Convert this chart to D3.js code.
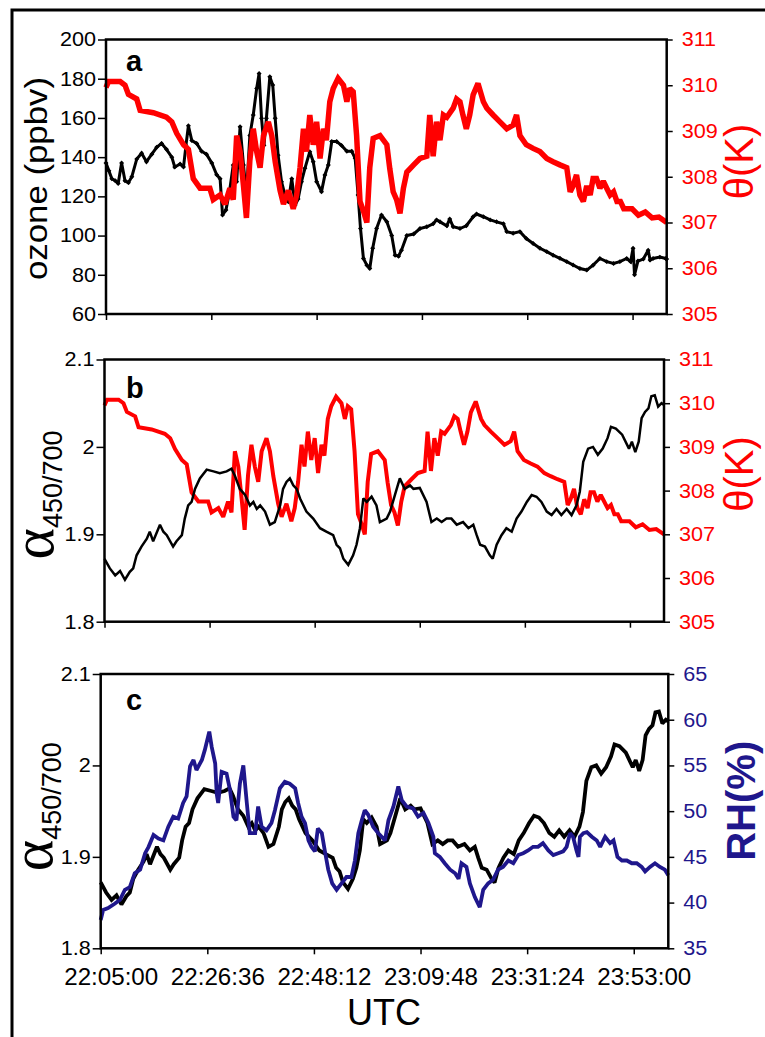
<!DOCTYPE html>
<html><head><meta charset="utf-8">
<script src="https://cdn.jsdelivr.net/npm/d3@7"></script>
<style>
html,body{margin:0;padding:0;background:#fff;}
svg{display:block;}
text{font-family:"Liberation Sans",Arial,sans-serif;}
</style></head>
<body>
<svg id="chart" width="765" height="1037"></svg>
<script>
// ---------------- DATA (minutes after 22:05:00 UTC) ----------------
const xTickMinutes = [0, 21.6, 43.2, 64.8, 86.4, 108];
const xTickLabels = ["22:05:00","22:26:36","22:48:12","23:09:48","23:31:24","23:53:00"];

const ozoneTicks = [60,80,100,120,140,160,180,200];
const thetaTicks = [305,306,307,308,309,310,311];
const alphaTicks = [1.8,1.9,2.0,2.1];
const alphaTickLabels = ["1.8","1.9","2","2.1"];
const rhTicks = [35,40,45,50,55,60,65];

const ozoneT = [0,0.6,1.2,1.9,2.5,3.2,3.9,4.6,5.3,6.3,7.3,8.3,9.4,10.4,11.4,12.4,13.5,14.1,15.2,15.9,16.4,16.9,17.6,18.6,19.6,20.6,21.7,22.7,23.4,23.9,24.6,25.3,26.1,26.8,27.5,28.2,28.8,29.5,30.2,30.9,31.4,31.9,32.4,32.9,33.6,34.2,34.7,35.3,36,36.7,37.4,38.1,38.8,39.4,40.1,40.8,41.8,42.5,43.2,44.2,44.9,45.6,46.3,47.3,48.3,49.4,50.4,51.1,51.7,52.2,52.8,53.5,54.1,54.7,55.5,56.5,57.6,58.6,59.3,60,60.6,61.7,63.1,64.4,65.8,67.1,67.8,68.5,69.9,70.5,71.2,72.6,73.9,75.3,76,77.4,78.8,80.1,81.5,82.2,83.5,84.9,86.2,87.6,89,90.4,91.7,93.1,94.5,95.8,97.2,98.6,99.9,101.3,102.7,104.1,105.4,106.8,107.6,108.1,108.4,109.1,110.2,111.2,111.6,112.2,113.6,114.8,115];
const ozoneV = [137,133,129,128,126.6,137,128,127,130,139,142,137.7,141.5,145,147,144,140,135,136.5,135,146,156,148.5,147,143,141.5,137,131,129,110.5,113,122,136,127.5,155.5,136,120.7,151,161.5,175,182.7,159.8,146,159.8,181,176.8,159.8,141,127.5,120.7,117.3,129,115.6,118.7,127.5,134.3,142.8,137.7,127.5,122.4,130.9,136,148,148,146,143,143,139.4,120.7,103.6,88.3,84.9,83.2,93.5,103.6,110.5,107,100,90,89.5,92.5,100,100.8,103.6,104.5,106,108,107,105,108.5,104.5,103.6,105,109.6,111,109.6,108,107,106,102,101.2,102,98.5,96,93.5,91.8,90,88.4,86.7,85,83.2,82.4,84.9,88.3,86.7,85.8,86.7,88.3,86.7,93.5,80,87,88,92.5,87.5,88.3,89,88.3,88];

const thetaT = [0,0.5,2.9,3.9,4.6,6.3,7,9.7,12.4,13.5,14.5,15.9,16.9,17.9,19.3,21.3,22,23.4,24.4,25.4,26.1,26.8,27.5,28.2,28.8,29.5,30.2,30.9,31.6,32.3,33.3,34,34.7,35.7,36.4,37.4,38.4,39.1,39.8,40.5,41.1,41.8,42.5,43.2,43.9,44.6,45.2,45.9,46.6,47.6,48.7,49.4,50,50.7,51.4,52.1,52.8,53.5,54.1,54.8,56.2,57.6,58.2,58.9,59.6,60.3,61,61.7,63.1,64.4,65.8,66.4,67.1,67.8,68.5,69.2,69.9,71.2,71.9,72.6,73.2,73.9,74.6,75.3,76.3,77.4,78.1,79.4,80.8,82.2,83.5,84.2,84.9,86.2,87.6,89,90.4,91.7,93.1,94.5,95.2,95.8,96.5,97.2,97.9,98.6,99.3,99.9,100.6,101.3,102,102.7,103.4,104.1,104.8,105.5,106.2,107.9,109.2,110.6,112,113.4,115];
const thetaV = [309.95,310.08,310.08,310.0,309.8,309.7,309.45,309.4,309.3,309.2,308.95,308.7,308.6,307.96,307.75,307.75,307.5,307.6,307.4,307.75,307.5,308.9,308.55,307.8,307.1,308.35,309.05,308.55,308.2,308.9,309.2,308.9,308.33,307.7,307.4,307.7,307.3,307.6,308.2,309.05,308.55,309.35,308.7,309.2,308.4,309.05,308.8,309.64,309.93,310.15,310.0,309.64,309.93,309.86,308.9,307.46,307.25,307.0,308.2,308.84,308.9,308.7,308.18,307.67,307.5,307.2,307.75,308.1,308.26,308.4,308.45,309.35,308.45,309.2,308.8,309.35,309.3,309.5,309.7,309.64,309.35,309.05,309.35,309.79,310.04,309.64,309.5,309.35,309.2,309.05,309.13,309.35,308.9,308.7,308.62,308.55,308.4,308.33,308.26,308.2,307.67,307.8,308.04,307.6,307.46,307.8,307.6,307.96,307.96,307.75,307.9,307.75,307.6,307.67,307.46,307.46,307.3,307.3,307.16,307.23,307.1,307.12,307.0];

const alphaT = [0,1.1,2.2,3.2,4.2,5.2,5.9,6.6,7.6,8.7,9.3,10,11.4,12.1,12.8,14.1,14.8,15.9,16.5,17.2,17.9,18.6,19.6,21,22.4,23.7,25.1,26.1,26.8,27.8,28.9,29.9,30.6,31.3,32,33,34,35,36.1,36.7,37.4,38.1,38.8,39.5,40.2,41.5,42.9,44.3,45.6,47,47.7,48.4,49.1,50.1,51.1,51.8,52.5,53.2,53.9,54.9,55.9,56.6,58,58.7,59.7,60.7,61.7,62.8,63.5,64.8,66.2,67.2,68.3,69.3,70.3,71.3,72.4,73.7,74.8,75.8,76.5,77.2,78.2,79.2,79.8,80.6,81.6,82.6,83.7,84.7,85.7,86.8,87.8,88.8,89.8,90.9,91.9,92.9,93.9,95,96,97,97.7,98.4,99.4,100.4,101.4,102.4,103.4,104.1,105.1,106.4,107.8,108.4,109.1,109.8,110.4,111.1,111.8,112.4,113.1,113.8,114.5,115];
const alphaV = [1.872,1.861,1.853,1.858,1.848,1.857,1.861,1.876,1.886,1.895,1.903,1.892,1.911,1.903,1.899,1.886,1.892,1.899,1.918,1.933,1.937,1.952,1.964,1.974,1.972,1.970,1.972,1.975,1.967,1.952,1.945,1.933,1.937,1.929,1.933,1.926,1.911,1.914,1.933,1.952,1.96,1.964,1.956,1.952,1.941,1.926,1.918,1.907,1.903,1.899,1.888,1.884,1.872,1.865,1.876,1.888,1.907,1.941,1.937,1.943,1.933,1.914,1.918,1.926,1.945,1.964,1.952,1.956,1.952,1.953,1.937,1.914,1.918,1.914,1.918,1.918,1.911,1.914,1.907,1.911,1.899,1.888,1.886,1.876,1.872,1.888,1.899,1.907,1.903,1.918,1.926,1.937,1.945,1.943,1.937,1.926,1.922,1.929,1.922,1.929,1.922,1.933,1.949,1.983,1.998,2.0,1.991,1.998,2.01,2.023,2.021,2.014,1.998,2.006,1.994,2.006,2.033,2.04,2.044,2.058,2.059,2.046,2.05,2.048];

const rhT = [0,0.5,1.5,2.9,3.9,4.9,5.9,6.9,8,9,9.7,10.7,11.7,12.7,13.7,14.7,15.7,16.7,17.4,18.1,18.8,19.4,20.5,21.1,22,22.5,23.2,23.5,23.8,24.5,25.5,26.2,26.9,27.5,28.2,28.9,29.6,30.2,31.3,31.9,32.6,33.6,34.6,35.3,36.3,37.3,38.3,39.4,40,40.7,41.4,42.1,42.7,43.4,44,44.8,45.4,46.1,46.9,47.8,48.8,49.8,50.8,51.5,52.2,52.9,53.5,54.2,55.2,56.2,57.6,58.3,59.3,60.3,61,62,63.3,64.3,65.4,66.4,67.4,67.7,68.7,69.7,70.8,71.8,72.5,73.1,74.1,74.8,75.8,76.8,77.5,78.5,79.5,80.5,81.5,82.6,83.6,84.6,85.6,86.6,87.6,88.6,89.6,90.7,91.7,92.7,93.7,94.4,95.1,95.7,96.4,96.8,97.1,97.8,98.5,99.5,100.5,101.2,102.2,103.2,103.9,104.7,105.6,106.6,107.6,108.6,109.6,110.3,111.3,112.3,113.3,114.3,115];
const rhV = [38.1,39.2,39.4,39.9,40.3,41.4,41.7,43.2,43.6,45.4,46.1,47.4,47,46.8,48.3,49.4,49.2,50.9,51.6,54.9,55.6,54.5,55.6,56.7,58.7,57,55.2,51.9,50.9,54.3,54.1,52.3,49.4,49,53,55,50.9,47.6,47.6,50.5,48.3,47.9,48.7,50.1,52.5,53.2,53,52.5,50.9,49.4,48.7,46.8,46.1,45.6,48.1,47.6,45.7,43.6,42.1,41.4,42.1,42.8,42.8,44.6,47.6,49,50.1,49.6,48.3,47.6,46.8,49,50.5,52.7,51.2,50.5,50.3,49.4,49.8,48.7,47.2,45.4,45,44.3,43.6,43.2,42.6,44.3,43.9,42.1,40.6,39.5,41.4,42.1,42.5,43.6,43.9,44.6,44.3,45.2,45.4,45.7,46.1,46.1,46.5,45.7,45.2,45.4,45.6,46.1,47.6,47.2,45.7,45,47.2,47.6,47.7,47.2,46.8,46.1,47.2,46.5,46.8,45,44.6,44.6,44.3,44.3,43.9,43.4,43.9,44.3,43.9,43.6,43];

// ---------------- DRAWING ----------------
const RED = "#ff0000", NAVY = "#1f178c";
const svg = d3.select("#chart");
svg.append("rect").attr("width",765).attr("height",1037).attr("fill","#fff");
svg.append("rect").attr("x",12).attr("y",10).attr("width",800).attr("height",1100)
  .attr("fill","none").attr("stroke","#000").attr("stroke-width",3);

function stretch(sel, f){
  sel.each(function(){
    const len = this.getComputedTextLength();
    d3.select(this).attr("textLength", len*f).attr("lengthAdjust","spacingAndGlyphs");
  });
}

function panel(cfg){
  const x = d3.scaleLinear().domain([0,115]).range([cfg.left,cfg.right]);
  const yL = d3.scaleLinear().domain(cfg.lDomain).range([cfg.bottom,cfg.top]);
  const yR = d3.scaleLinear().domain(cfg.rDomain).range([cfg.bottom,cfg.top]);
  const g = svg.append("g");

  cfg.series.forEach(s=>{
    const y = s.axis==="L" ? yL : yR;
    const pts = d3.zip(s.t, s.v);
    g.append("path").datum(pts)
      .attr("fill","none").attr("stroke",s.color).attr("stroke-width",s.width)
      .attr("stroke-linejoin","miter").attr("stroke-miterlimit",2)
      .attr("d", d3.line().x(d=>x(d[0])).y(d=>y(d[1])));
    if (s.marker) {
      g.append("g").selectAll("rect").data(pts).join("rect")
        .attr("x",d=>x(d[0])-s.marker/2).attr("y",d=>y(d[1])-s.marker/2)
        .attr("width",s.marker).attr("height",s.marker).attr("fill",s.color)
        .attr("transform",d=>`rotate(45,${x(d[0])},${y(d[1])})`);
    }
  });

  g.append("rect").attr("x",cfg.left).attr("y",cfg.top)
    .attr("width",cfg.right-cfg.left).attr("height",cfg.bottom-cfg.top)
    .attr("fill","none").attr("stroke","#000").attr("stroke-width",2.5);

  const la = g.append("g").attr("transform",`translate(${cfg.left},0)`)
    .call(d3.axisLeft(yL).tickValues(cfg.lTicks).tickSize(8).tickPadding(2)
      .tickFormat((d,i)=>cfg.lLabels ? cfg.lLabels[i] : String(d)));
  la.select(".domain").remove();
  la.selectAll("line").attr("stroke","#000").attr("stroke-width",1.5);
  la.selectAll("text").attr("font-size",20).attr("fill","#000")
    .attr("font-family","Liberation Sans, Arial, sans-serif");
  stretch(la.selectAll("text"),1.08);

  const ra = g.append("g").attr("transform",`translate(${cfg.right},0)`)
    .call(d3.axisRight(yR).tickValues(cfg.rTicks).tickSize(6).tickPadding(9)
      .tickFormat(d=>String(d)));
  ra.select(".domain").remove();
  ra.selectAll("line").attr("stroke","#000").attr("stroke-width",1.5);
  ra.selectAll("text").attr("font-size",20).attr("fill",cfg.rColor)
    .attr("font-family","Liberation Sans, Arial, sans-serif");
  stretch(ra.selectAll("text"),1.08);

  const ba = g.append("g").attr("transform",`translate(0,${cfg.bottom})`)
    .call(d3.axisBottom(x).tickValues(xTickMinutes).tickSize(6).tickPadding(14)
      .tickFormat((d,i)=> cfg.xLabels ? xTickLabels[i] : ""));
  ba.select(".domain").remove();
  ba.selectAll("line").attr("stroke","#000").attr("stroke-width",1.5);
  ba.selectAll("text").attr("font-size",23).attr("fill","#000").attr("dx",10)
    .attr("font-family","Liberation Sans, Arial, sans-serif");
  if (cfg.xLabels) stretch(ba.selectAll("text"),1.05);

  g.append("text").attr("x",126).attr("y",cfg.letterY).text(cfg.letter)
    .attr("font-size",29).attr("font-weight","bold").attr("fill","#000");
  return g;
}

panel({left:106,right:666.7,top:39.5,bottom:314,
  lDomain:[60,200], rDomain:[305,311], lTicks:ozoneTicks, rTicks:thetaTicks, rColor:RED,
  letter:"a", letterY:71,
  series:[{t:ozoneT,v:ozoneV,axis:"L",color:"#000",width:3,marker:3.5},
          {t:thetaT,v:thetaV,axis:"R",color:RED,width:5.5}]});

panel({left:104.5,right:664,top:359.5,bottom:621.7,
  lDomain:[1.8,2.1], rDomain:[305,311], lTicks:alphaTicks, lLabels:alphaTickLabels, rTicks:thetaTicks, rColor:RED,
  letter:"b", letterY:398,
  series:[{t:thetaT,v:thetaV,axis:"R",color:RED,width:4},
          {t:alphaT,v:alphaV,axis:"L",color:"#000",width:2.5}]});

panel({left:100.7,right:668.3,top:674,bottom:948.3,
  lDomain:[1.8,2.1], rDomain:[35,65], lTicks:alphaTicks, lLabels:alphaTickLabels, rTicks:rhTicks, rColor:NAVY,
  letter:"c", letterY:710, xLabels:true,
  series:[{t:alphaT,v:alphaV,axis:"L",color:"#000",width:3.8},
          {t:rhT,v:rhV,axis:"R",color:NAVY,width:3.8}]});

const oz = svg.append("text").attr("transform","translate(47,178.5) rotate(-90)")
  .attr("text-anchor","middle").attr("font-size",31).attr("fill","#000").text("ozone (ppbv)");
oz.attr("textLength",203).attr("lengthAdjust","spacingAndGlyphs");

function thetaLabel(cy){
  svg.append("text").attr("transform",`translate(753,${cy}) rotate(-90)`)
    .attr("text-anchor","middle").attr("font-size",40).attr("fill",RED).text("θ(K)");
}
thetaLabel(161.5);
thetaLabel(474);

function alphaLabel(bx, cy){
  const t = svg.append("text").attr("transform",`translate(${bx},${cy}) rotate(-90)`)
    .attr("text-anchor","middle").attr("fill","#000");
  t.append("tspan").attr("font-family","Liberation Serif, Times New Roman, serif")
    .attr("font-size",60).text("α");
  t.append("tspan").attr("font-size",27).attr("dy",9).text("450/700");
}
alphaLabel(53, 495);
alphaLabel(52, 806.7);

svg.append("text").attr("transform","translate(755,800.8) rotate(-90)")
  .attr("text-anchor","middle").attr("font-size",40).attr("font-weight","bold")
  .attr("fill",NAVY).text("RH(%)");

svg.append("text").attr("x",384).attr("y",1025).attr("text-anchor","middle")
  .attr("font-size",36).attr("fill","#000").text("UTC");
</script>
</body></html>
